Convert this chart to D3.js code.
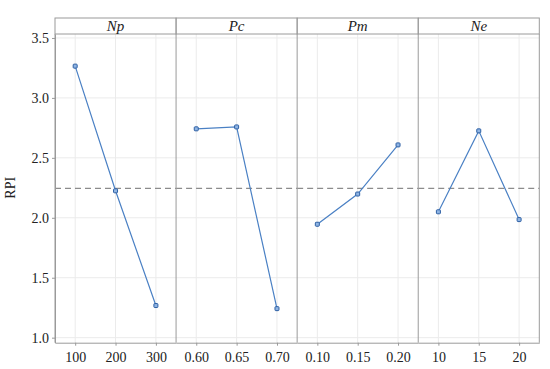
<!DOCTYPE html>
<meta charset="UTF-8">
<style>
    body { margin: 0; background: #fff; }
    .grid line { stroke: #ebebeb; stroke-width: 1px; }
    .frame { fill: none; stroke: #9a9a9a; stroke-width: 1px; }
    .line { fill: none; stroke: #4a80c4; stroke-width: 1.2px; }
</style>
<body>
<div id="chart"></div>
<script src="https://d3js.org/d3.v7.min.js"></script>
<script>

// factors and their levels
var factors = ["Np", "Pc", "Pm", "Ne"];
var levels = {
    Np: ["100", "200", "300"],
    Pc: ["0.60", "0.65", "0.70"],
    Pm: ["0.10", "0.15", "0.20"],
    Ne: ["10", "15", "20"]
};
// mean RPI at each level
var npValues = [3.265, 2.225, 1.268];
var pcValues = [2.742, 2.758, 1.242];
var pmValues = [1.946, 2.198, 2.608];
var neValues = [2.05, 2.725, 1.985];
var values = { Np: npValues, Pc: pcValues, Pm: pmValues, Ne: neValues };
var meanRPI = 2.245;
var yTicks = [1.0, 1.5, 2.0, 2.5, 3.0, 3.5];

var serif = "'Liberation Serif', 'Times New Roman', serif";

// set the dimensions and margins of the graph
var margin = {top: 18, right: 10.7, bottom: 26.3, left: 55},
    width = 550 - margin.left - margin.right,
    height = 369 - margin.top - margin.bottom,
    stripH = 16,
    plotH = height - stripH;

var svg = d3.select("#chart").append("svg")
    .attr("width", 550)
    .attr("height", 369)
  .append("g")
    .attr("transform", "translate(" + margin.left + "," + margin.top + ")");

// panel positions
var panel = d3.scaleBand().domain(factors).range([0, width]);

// y scale shared by all panels
var y = d3.scaleLinear().domain([0.958, 3.533]).range([stripH + plotH, stripH]);

factors.forEach(function(f) {
    var g = svg.append("g")
        .attr("transform", "translate(" + panel(f) + ",0)");
    var pw = panel.bandwidth();
    var x = d3.scalePoint().domain(levels[f]).range([0, pw]).padding(0.5);

    // gridlines
    var grid = g.append("g").attr("class", "grid");
    grid.selectAll(".h").data(yTicks).enter().append("line")
        .attr("x1", 0).attr("x2", pw)
        .attr("y1", function(d) { return y(d); })
        .attr("y2", function(d) { return y(d); });
    grid.selectAll(".v").data(levels[f]).enter().append("line")
        .attr("x1", function(d) { return x(d); })
        .attr("x2", function(d) { return x(d); })
        .attr("y1", stripH).attr("y2", stripH + plotH);

    // reference mean line
    g.append("line")
        .attr("x1", 0).attr("x2", pw)
        .attr("y1", y(meanRPI)).attr("y2", y(meanRPI))
        .style("stroke", "#8c8c8c")
        .style("stroke-width", 1.2)
        .style("stroke-dasharray", "6,4");

    // main effect line
    var pts = levels[f].map(function(l, i) { return {lev: l, v: values[f][i]}; });
    g.append("path")
        .data([pts])
        .attr("class", "line")
        .attr("d", d3.line()
            .x(function(d) { return x(d.lev); })
            .y(function(d) { return y(d.v); }));

    g.selectAll(".pt").data(pts).enter().append("rect")
        .attr("x", function(d) { return x(d.lev) - 2; })
        .attr("y", function(d) { return y(d.v) - 2; })
        .attr("width", 4).attr("height", 4)
        .attr("rx", 0.8)
        .style("fill", "#8fb4e3")
        .style("stroke", "#2d5fa3")
        .style("stroke-width", 1);

    // strip and frame
    g.append("rect").attr("class", "frame")
        .attr("x", 0).attr("y", 0).attr("width", pw).attr("height", stripH);
    g.append("line").attr("class", "frame")
        .attr("x1", 0).attr("x2", 0).attr("y1", stripH).attr("y2", stripH + plotH);
    if (f === factors[factors.length - 1]) {
        g.append("line").attr("class", "frame")
            .attr("x1", pw).attr("x2", pw).attr("y1", stripH).attr("y2", stripH + plotH);
    }
    g.append("text")
        .attr("x", pw / 2).attr("y", stripH / 2 + 5)
        .attr("text-anchor", "middle")
        .style("font-family", serif)
        .style("font-size", "15px")
        .style("font-style", "italic")
        .style("fill", "#222")
        .text(f);

    // x axis
    var ax = g.append("g")
        .attr("transform", "translate(0," + (stripH + plotH) + ")")
        .call(d3.axisBottom(x).tickSize(3).tickSizeOuter(0));
    ax.select(".domain").style("stroke", "#9a9a9a");
    ax.selectAll("line").style("stroke", "#9a9a9a");
    ax.selectAll("text")
        .style("font-family", serif)
        .style("font-size", "14px")
        .style("fill", "#222")
        .attr("dy", "0.95em");
});

// y axis
var ay = svg.append("g")
    .call(d3.axisLeft(y).tickValues(yTicks).tickFormat(d3.format(".1f")).tickSize(3).tickSizeOuter(0));
ay.select(".domain").style("stroke", "#9a9a9a");
ay.selectAll("line").style("stroke", "#9a9a9a");
ay.selectAll("text")
    .style("font-family", serif)
    .style("font-size", "14px")
    .style("fill", "#222");

// y label
svg.append("text")
    .attr("transform", "translate(" + (-40) + "," + y(2.25) + ") rotate(-90)")
    .attr("text-anchor", "middle")
    .style("font-family", serif)
    .style("font-size", "14px")
    .style("fill", "#222")
    .text("RPI");

</script>
</body>
